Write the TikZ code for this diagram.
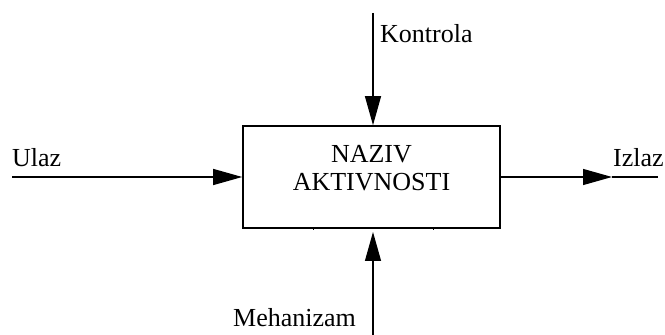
\documentclass[tikz,border=0pt]{standalone}
\usepackage{fontspec}
\setmainfont{Liberation Serif}
\usetikzlibrary{arrows.meta}
\usetikzlibrary{positioning}

\tikzset{
  flow/.style={line width=1.2pt,-{Triangle[length=29pt,width=16pt]}},
  plain/.style={line width=1.2pt},
  actbox/.style={draw,line width=1.6pt,rectangle,minimum width=257pt,minimum height=102pt,inner sep=0pt},
  lbl/.style={font=\fontsize{26}{28}\selectfont,inner sep=0pt},
}

\begin{document}
\begin{tikzpicture}[x=1pt,y=1pt]
\useasboundingbox (0,0) rectangle (665,335);

% activity box
\node[actbox] (akt) at (371.5,158) {};
\node[lbl,align=center] (aktnaziv) at ([yshift=8.5pt]akt.center) {NAZIV\\AKTIVNOSTI};
\draw[line width=0.8pt] (313,107) -- (313,104.5);
\draw[line width=0.8pt] (433,107) -- (433,104.5);

% input, left
\coordinate (ulazstart) at (12,158);
\draw[flow] (ulazstart) -- (akt.west);
\node[lbl,anchor=base west] (ulaz) at (12,168) {Ulaz};

% output, right
\coordinate (izlaztip) at (612,158);
\coordinate (izlazend) at (658,158);
\draw[flow] (akt.east) -- (izlaztip);
\draw[plain] (izlaztip) -- (izlazend);
\node[lbl,anchor=base west] (izlaz) at (613,168) {Izlaz};

% control, top
\coordinate (kontstart) at (373,322);
\draw[flow] (kontstart) -- (akt.north -| kontstart);
\node[lbl,anchor=base west] (kontrola) at (380,292) {Kontrola};

% mechanism, bottom
\coordinate (mehstart) at (373,0);
\coordinate (mehtip) at (373,103);
\draw[flow] (mehstart) -- (mehtip);
\node[lbl,anchor=base west] (mehanizam) at (233,8) {Mehanizam};

\end{tikzpicture}
\end{document}
